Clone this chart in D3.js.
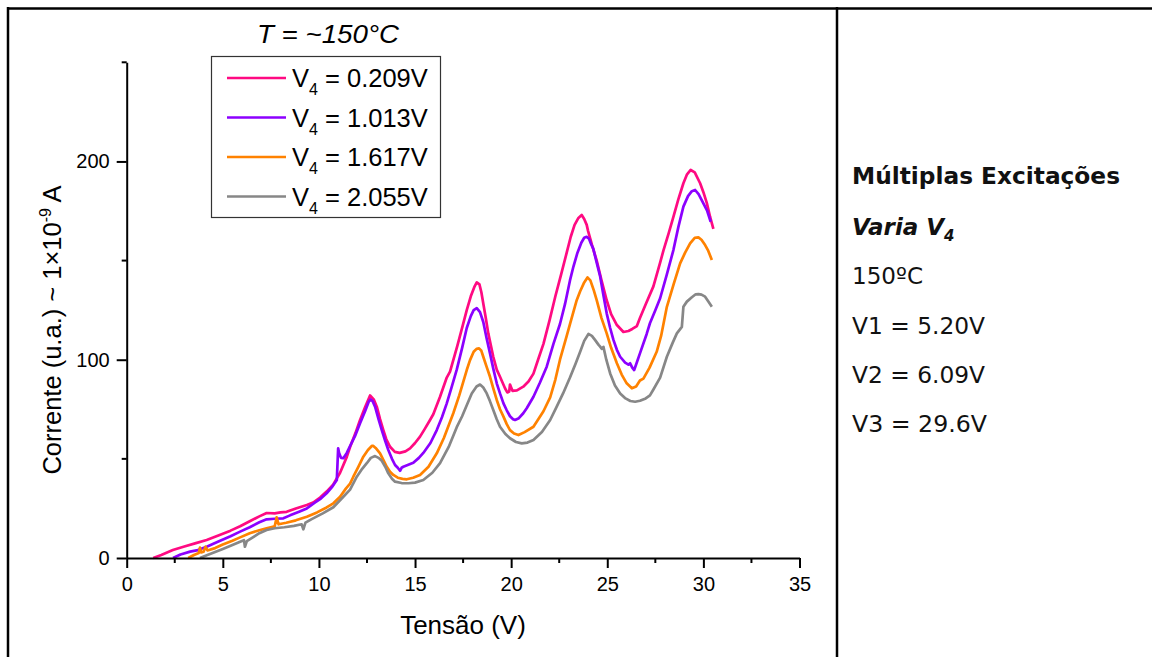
<!DOCTYPE html>
<html><head><meta charset="utf-8">
<script src="https://cdn.jsdelivr.net/npm/d3@7"></script>
<style>
html,body{margin:0;padding:0;background:#fff;}
svg{display:block;}
</style></head>
<body>
<svg id="chart" width="1152" height="657"></svg>
<script>
// ---------- DATA ----------
const seriesNames = ["0.209V", "1.013V", "1.617V", "2.055V"];
const seriesColors = ["#FF0A82", "#8C00FF", "#FF8200", "#878787"];
const xTicks = [0, 5, 10, 15, 20, 25, 30, 35];
const xMinorTicks = [2.5, 7.5, 12.5, 17.5, 22.5, 27.5, 32.5];
const yTicks = [0, 100, 200];
const yMinorTicks = [50, 150, 250];
const panelLines = ["Múltiplas Excitações", "Varia V", "150ºC", "V1 = 5.20V", "V2 = 6.09V", "V3 = 29.6V"];

// [Tensão (V), Corrente (u.a.)]
const v4_0209 = [[1.38,0],[1.8,1.5],[2.4,4],[3.0,5.8],[3.6,7.5],[4.16,9.1],[4.8,11.5],[5.4,13.8],[5.9,16],[6.4,18.5],[6.9,21],[7.28,22.7],[7.7,22.5],[8.0,23],[8.32,23.3],[8.8,25],[9.37,26.7],[9.7,28],[10.06,30.5],[10.4,33.5],[10.74,37],[11.1,43],[11.45,51],[11.62,56],[11.9,63],[12.14,69.6],[12.4,76],[12.66,82],[12.85,80],[13.01,76.3],[13.18,70],[13.35,64.5],[13.5,60],[13.7,56.1],[13.95,53.5],[14.2,53],[14.5,53.8],[14.74,55.3],[15.0,58],[15.26,61.2],[15.5,65],[15.78,69.6],[15.95,72.5],[16.3,81.3],[16.65,91],[16.82,94],[17.2,107],[17.5,118],[17.69,125],[17.9,132],[18.1,137],[18.21,139],[18.35,138],[18.45,134],[18.55,128.4],[18.68,121],[18.81,113.3],[19.07,101.5],[19.25,95],[19.42,91.4],[19.68,85.6],[19.8,83.5],[19.9,84],[19.94,87.5],[20.0,86],[20.07,84.3],[20.3,84.5],[20.63,86.4],[20.9,89],[21.16,93],[21.4,100],[21.68,108],[22.0,120],[22.3,132],[22.6,143],[22.89,154],[23.1,162],[23.3,168],[23.5,171.5],[23.67,173],[23.8,171],[23.93,168],[24.0,165],[24.2,158],[24.45,150],[24.7,140],[24.97,130],[25.2,123],[25.5,117.5],[25.84,114],[26.1,114.5],[26.3,115.5],[26.54,117],[26.7,121],[27.0,128],[27.4,137],[27.75,149],[27.92,155],[28.2,164],[28.44,172],[28.7,181],[28.96,189],[29.15,193.5],[29.34,195.7],[29.55,194.5],[29.83,189],[30.0,184.5],[30.18,179],[30.35,172],[30.52,166]];

const v4_1013 = [[2.41,0],[2.8,1.8],[3.3,3.2],[3.7,4],[4.16,5.7],[4.8,8.5],[5.4,11],[5.9,13.3],[6.4,15.5],[6.9,18],[7.28,19.5],[7.7,19.8],[8.15,20],[8.5,21.5],[9.0,23.5],[9.37,25],[9.8,28],[10.1,30],[10.4,32.6],[10.7,36],[10.93,39.3],[11.0,55.3],[11.05,53],[11.15,50.5],[11.27,50.3],[11.45,53],[11.62,56.5],[11.9,62],[12.14,68],[12.4,74],[12.6,79],[12.69,80],[12.8,79],[12.92,76.3],[13.1,70],[13.27,64.5],[13.45,59],[13.61,54.5],[13.8,50],[13.96,46.9],[14.1,45.5],[14.22,44],[14.3,45.5],[14.39,46],[14.65,47],[14.91,48],[15.2,50.5],[15.43,53],[15.8,58],[16.13,64.5],[16.4,71],[16.65,78],[16.9,86],[17.17,95],[17.45,106],[17.69,116],[17.9,122],[18.05,125],[18.21,126],[18.38,124],[18.55,119],[18.72,111],[18.9,103.2],[19.07,95.5],[19.25,88.1],[19.42,83],[19.6,78],[19.77,74.5],[19.94,71.5],[20.1,70],[20.2,69.6],[20.4,70.5],[20.63,73],[20.81,75.5],[21.16,81.3],[21.5,88.5],[21.85,96.5],[22.2,108],[22.54,118],[22.8,128],[23.06,140],[23.24,147],[23.45,154],[23.65,159],[23.8,161.5],[23.93,162],[24.05,161],[24.15,158.5],[24.27,156],[24.45,149],[24.63,142],[24.8,132.5],[24.97,123.4],[25.15,116],[25.32,110],[25.5,105],[25.67,101.5],[25.93,98.5],[26.1,97.5],[26.19,98.2],[26.3,96],[26.4,94.8],[26.55,99],[26.7,103.2],[27.05,113],[27.22,118.4],[27.5,125],[27.75,131],[28.1,143],[28.44,155.3],[28.7,167],[28.96,177.2],[29.2,182.5],[29.4,185],[29.57,185.6],[29.75,183.5],[30.0,178.9],[30.2,175],[30.38,169.6]];

const v4_1617 = [[3.2,0],[3.5,1.5],[3.75,2.5],[3.81,5.2],[3.87,2.8],[4.0,3.2],[4.1,5.7],[4.2,3.8],[4.6,5],[5.0,6.8],[5.5,8.7],[5.9,10.4],[6.4,12.5],[6.9,14],[7.28,15],[7.7,16],[7.8,20.5],[7.9,17],[8.3,17.8],[8.8,19],[9.37,20.8],[9.9,23],[10.4,25.5],[10.75,27.6],[11.1,30.9],[11.4,35],[11.62,37.5],[11.79,41],[12.05,46],[12.31,51.1],[12.55,54.5],[12.75,56.5],[12.83,56.5],[12.95,55.5],[13.18,52.8],[13.35,49.5],[13.53,46],[13.7,43.5],[13.87,41.9],[14.1,40.5],[14.35,39.9],[14.57,39.7],[14.9,40.5],[15.26,41.9],[15.7,46],[16.13,52.8],[16.5,60.5],[16.99,73],[17.3,82],[17.69,94.8],[17.86,99.8],[18.05,104],[18.2,105.5],[18.33,105.7],[18.45,104.5],[18.55,101.5],[18.72,96.5],[18.9,91.4],[19.07,85.5],[19.25,79.7],[19.42,75],[19.6,71.3],[19.77,67.5],[19.94,64.5],[20.15,62.8],[20.38,62],[20.7,63.5],[21.16,66.2],[21.68,74],[22.03,81],[22.3,90],[22.54,100],[22.89,112],[23.06,118],[23.41,130],[23.59,134.5],[23.8,139],[23.97,141.5],[24.12,140],[24.3,135],[24.45,130.1],[24.7,121],[24.97,113.3],[25.2,106],[25.5,98.2],[25.75,92.5],[26.01,88.1],[26.28,85.6],[26.5,86.5],[26.7,89.5],[26.88,90.5],[27.2,96],[27.57,104],[27.8,112],[28.1,126.7],[28.45,138],[28.79,148.6],[29.05,154],[29.31,158.7],[29.55,161.5],[29.74,161.7],[29.9,160.5],[30.09,157.8],[30.25,155],[30.44,150.3]];

const v4_2055 = [[3.81,0],[4.2,1.5],[4.6,3],[5.0,4.5],[5.5,6.5],[5.9,8.2],[6.1,9],[6.15,5.7],[6.25,8.5],[6.5,10],[6.9,12.5],[7.28,14.1],[7.7,15],[8.2,15.5],[8.7,16.2],[9.1,17],[9.19,14.5],[9.3,17.8],[9.6,19.5],[10.2,22.5],[10.75,25.6],[11.27,30.9],[11.62,34.5],[11.97,41],[12.25,45],[12.49,47.8],[12.7,50.5],[12.92,51.4],[13.1,50.5],[13.27,49],[13.45,46],[13.61,42.7],[13.8,40],[13.96,38.5],[14.3,37.8],[14.65,37.7],[15.0,38],[15.43,39.3],[15.9,43],[16.3,47.8],[16.75,56],[17.17,66],[17.45,71.5],[17.69,77],[17.95,83],[18.2,86.5],[18.38,87.5],[18.55,86],[18.73,83],[18.9,79],[19.07,74.6],[19.25,70],[19.42,66.2],[19.7,62.5],[19.94,60.4],[20.25,58.5],[20.55,57.8],[20.85,58.2],[21.16,59.5],[21.6,63.5],[22.03,69.6],[22.37,76.3],[22.7,83],[23.06,91],[23.35,98],[23.59,104],[23.8,109.5],[24.02,113],[24.2,112],[24.37,109.9],[24.55,107.5],[24.63,106.6],[24.71,105.5],[24.8,106.5],[24.95,100],[25.15,93.1],[25.4,87],[25.67,83],[25.95,80.5],[26.2,79.2],[26.45,78.8],[26.7,79.3],[27.0,80.5],[27.22,82],[27.4,85],[27.75,91],[28.1,101.5],[28.4,108.5],[28.62,113.3],[28.88,116.6],[28.96,126.7],[29.14,129.3],[29.4,131.5],[29.6,133],[29.74,133.1],[29.9,132.8],[30.09,131.8],[30.25,129.5],[30.44,126.7]];

const allSeries = [v4_0209, v4_1013, v4_1617, v4_2055];

// ---------- DRAW ----------
const svg = d3.select("#chart");
const FONT = "'Liberation Sans', Arial, sans-serif";

// table frame
svg.append("line").attr("x1", 8).attr("x2", 1152).attr("y1", 8.5).attr("y2", 8.5).attr("stroke", "#000").attr("stroke-width", 2.5);
svg.append("line").attr("x1", 8).attr("x2", 8).attr("y1", 7).attr("y2", 657).attr("stroke", "#000").attr("stroke-width", 2.5);
svg.append("line").attr("x1", 837).attr("x2", 837).attr("y1", 7).attr("y2", 657).attr("stroke", "#000").attr("stroke-width", 2.5);

const x = d3.scaleLinear().domain([0, 35]).range([126.7, 799.5]);
const y = d3.scaleLinear().domain([0, 250]).range([558, 62.3]);

// lines
const line = d3.line().x(d => x(d[0])).y(d => y(d[1]));
svg.append("g").selectAll("path").data(allSeries).join("path")
  .attr("d", line).attr("fill", "none")
  .attr("stroke", (d, i) => seriesColors[i]).attr("stroke-width", 2.7)
  .attr("stroke-linejoin", "round");

// x axis
const gx = svg.append("g").attr("transform", "translate(0,558)");
gx.call(d3.axisBottom(x).tickValues(xTicks).tickSize(10).tickSizeOuter(0).tickPadding(9).tickFormat(d3.format("d")));
gx.selectAll(".tick text").attr("font-size", 20).attr("font-family", FONT).attr("fill", "#000");
gx.append("g").selectAll("line").data(xMinorTicks).join("line")
  .attr("x1", d => x(d)).attr("x2", d => x(d)).attr("y1", 0).attr("y2", 5).attr("stroke", "#000").attr("stroke-width", 2);

// y axis
const gy = svg.append("g").attr("transform", "translate(126.7,0)");
gy.call(d3.axisLeft(y).tickValues(yTicks).tickSize(10).tickSizeOuter(0).tickPadding(7).tickFormat(d3.format("d")));
gy.selectAll(".tick text").attr("font-size", 20).attr("font-family", FONT).attr("fill", "#000");
gy.append("g").selectAll("line").data(yMinorTicks).join("line")
  .attr("x1", 0).attr("x2", -5).attr("y1", d => y(d)).attr("y2", d => y(d)).attr("stroke", "#000").attr("stroke-width", 2);

[gx, gy].forEach(g => {
  g.select(".domain").attr("stroke", "#000").attr("stroke-width", 2);
  g.selectAll(".tick line").attr("stroke", "#000").attr("stroke-width", 2);
});

// axis titles
svg.append("text").attr("x", 463).attr("y", 634).attr("text-anchor", "middle")
  .attr("font-family", FONT).attr("font-size", 26).text("Tensão (V)");
const yt = svg.append("text").attr("transform", "translate(61,330) rotate(-90)").attr("text-anchor", "middle")
  .attr("font-family", FONT).attr("font-size", 25.5);
yt.append("tspan").text("Corrente (u.a.) ~ 1×10");
yt.append("tspan").attr("font-size", 16).attr("dy", -10).text("-9");
yt.append("tspan").attr("dy", 10).text(" A");

// title
svg.append("text").attr("x", 328).attr("y", 43).attr("text-anchor", "middle")
  .attr("font-family", FONT).attr("font-size", 26).attr("font-style", "italic")
  .attr("textLength", 142).attr("lengthAdjust", "spacingAndGlyphs").text("T = ~150°C");

// legend
svg.append("rect").attr("x", 211.5).attr("y", 56.5).attr("width", 229).attr("height", 161)
  .attr("fill", "#fff").attr("stroke", "#333").attr("stroke-width", 1.2);
const lg = svg.append("g").selectAll("g").data(seriesNames).join("g")
  .attr("transform", (d, i) => `translate(0,${78 + i * 39.5})`);
lg.append("line").attr("x1", 227).attr("x2", 286).attr("stroke", (d, i) => seriesColors[i]).attr("stroke-width", 2.7);
const lt = lg.append("text").attr("x", 292).attr("y", 9).attr("font-family", FONT).attr("font-size", 25.5);
lt.append("tspan").text("V");
lt.append("tspan").attr("font-size", 16).attr("dy", 8).text("4");
lt.append("tspan").attr("dy", -8).text(d => " = " + d);

// right panel
const PF = "'DejaVu Sans', Verdana, sans-serif";
const panelY = [184, 235, 284, 334, 383, 432];
const widths = [268, null, 71, 133, 133, 135];
panelLines.forEach((t, i) => {
  const tx = svg.append("text").attr("x", 852).attr("y", panelY[i]).attr("font-family", PF)
    .attr("font-size", 23).attr("fill", "#111");
  if (i === 0) tx.attr("font-weight", "bold");
  if (i === 1) {
    tx.attr("font-weight", "bold").attr("font-style", "italic");
    tx.append("tspan").text(t);
    tx.append("tspan").attr("font-size", 15).attr("dy", 6).text("4");
  } else {
    tx.text(t);
    if (widths[i]) tx.attr("textLength", widths[i]).attr("lengthAdjust", "spacingAndGlyphs");
  }
});
</script>
</body></html>
